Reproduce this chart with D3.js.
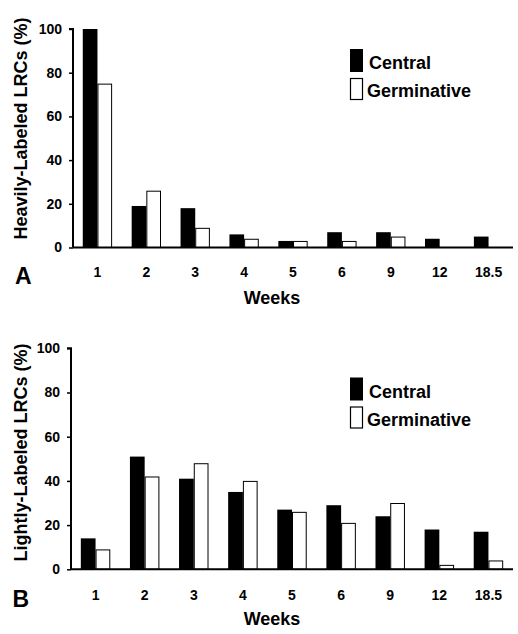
<!DOCTYPE html>
<html>
<head>
<meta charset="utf-8">
<script src="https://cdn.jsdelivr.net/npm/d3@7"></script>
<style>
  html, body { margin: 0; padding: 0; background: #fff; }
  svg { display: block; }
  text { font-family: Arial, "Liberation Sans", sans-serif; font-weight: bold; fill: #000; }
</style>
</head>
<body>
<svg id="chart" width="518" height="634"></svg>
<script>
const weeks = ["1", "2", "3", "4", "5", "6", "9", "12", "18.5"];
const seriesNames = ["Central", "Germinative"];
const heavyCentral = [100, 19, 18, 6, 3, 7, 7, 4, 5];
const heavyGerminative = [75, 26, 9, 4, 3, 3, 5, 0, 0];
const lightCentral = [14, 51, 41, 35, 27, 29, 24, 18, 17];
const lightGerminative = [9, 42, 48, 40, 26, 21, 30, 2, 4];
const yTicks = [0, 20, 40, 60, 80, 100];

const svg = d3.select("#chart");

function panel(cfg) {
  const g = svg.append("g");
  const x = d3.scaleBand().domain(weeks).range([cfg.x0, cfg.x1]).paddingInner(0.4).paddingOuter(0.2);
  const xs = d3.scaleBand().domain(seriesNames).range([0, x.bandwidth()]);
  const y = d3.scaleLinear().domain([0, 100]).range([cfg.yBottom, cfg.yTop]);

  const rows = weeks.map((w, i) => ({ w, vals: [cfg.central[i], cfg.germ[i]] }));
  const grp = g.selectAll("g.grp").data(rows).join("g")
    .attr("transform", d => `translate(${x(d.w)},0)`);
  grp.selectAll("rect").data(d => d.vals.map((v, k) => ({ v, s: seriesNames[k] })))
    .join("rect")
    .attr("x", d => xs(d.s) + (d.s === "Germinative" ? 0.5 : 0))
    .attr("y", d => y(d.v) + (d.s === "Germinative" ? 0.5 : 0))
    .attr("width", d => xs.bandwidth() - (d.s === "Germinative" ? 1 : 0))
    .attr("height", d => Math.max(0, y(0) - y(d.v) - (d.s === "Germinative" ? 0.5 : 0)))
    .attr("fill", d => d.s === "Central" ? "#000" : "#fff")
    .attr("stroke", d => d.s === "Central" ? "none" : "#000")
    .attr("stroke-width", 1)
    .style("display", d => d.v > 0 ? null : "none");

  // y axis
  const yAxis = d3.axisLeft(y).tickValues(yTicks).tickSize(4).tickPadding(7);
  const ya = g.append("g").attr("transform", `translate(${cfg.x0},0)`).call(yAxis);
  ya.select(".domain").attr("stroke", "#000").attr("stroke-width", 2)
    .attr("d", `M-4,${y(100)}H0V${y(0)}`);
  ya.selectAll(".tick line").attr("stroke", "#000").attr("stroke-width", 1.5);
  ya.selectAll(".tick text").style("font-size", "14px").style("font-family", "Arial, 'Liberation Sans', sans-serif").style("font-weight", "bold").attr("fill", "#000");

  // x axis
  const xAxis = d3.axisBottom(x).tickSize(0).tickPadding(0);
  const xa = g.append("g").attr("transform", `translate(0,${y(0)})`).call(xAxis);
  xa.select(".domain").attr("stroke", "#000").attr("stroke-width", 2)
    .attr("d", `M${cfg.x0},0H${cfg.x1}`);
  xa.selectAll(".tick text").attr("dy", null).attr("y", cfg.xLabelBase - y(0))
    .style("font-size", "14px").style("font-family", "Arial, 'Liberation Sans', sans-serif").style("font-weight", "bold").attr("fill", "#000");

  // axis titles
  g.append("text").attr("x", 272).attr("y", cfg.weeksBase).attr("text-anchor", "middle")
    .style("font-size", "18px").text("Weeks");
  g.append("text").attr("transform", `translate(${cfg.yLabelX},${cfg.yLabelC}) rotate(-90)`)
    .attr("text-anchor", "middle").style("font-size", "18px").text(cfg.yLabel);
  g.append("text").attr("x", cfg.letterX).attr("y", cfg.letterBase)
    .style("font-size", "23px").text(cfg.letter);

  // legend
  const lg = g.append("g");
  lg.append("rect").attr("x", 350).attr("y", cfg.legY).attr("width", 13).attr("height", 23).attr("fill", "#000");
  lg.append("rect").attr("x", 350.5).attr("y", cfg.legY + 29.5).attr("width", 12).attr("height", 21).attr("fill", "#fff").attr("stroke", "#000").attr("stroke-width", 1.2);
  lg.append("text").attr("x", 369).attr("y", cfg.legY + 20).style("font-size", "18px").text(seriesNames[0]);
  lg.append("text").attr("x", 367).attr("y", cfg.legY + 48).style("font-size", "18px").text(seriesNames[1]);
}

panel({
  x0: 73, x1: 513, yBottom: 247.5, yTop: 29,
  central: heavyCentral, germ: heavyGerminative,
  xLabelBase: 277, weeksBase: 304,
  yLabel: "Heavily-Labeled LRCs (%)", yLabelX: 27, yLabelC: 128.5,
  letter: "A", letterX: 15, letterBase: 284,
  legY: 49
});

panel({
  x0: 71, x1: 513, yBottom: 569.3, yTop: 348.3,
  central: lightCentral, germ: lightGerminative,
  xLabelBase: 600, weeksBase: 625,
  yLabel: "Lightly-Labeled LRCs (%)", yLabelX: 27, yLabelC: 452.5,
  letter: "B", letterX: 12.5, letterBase: 607,
  legY: 377.5
});
</script>
</body>
</html>
